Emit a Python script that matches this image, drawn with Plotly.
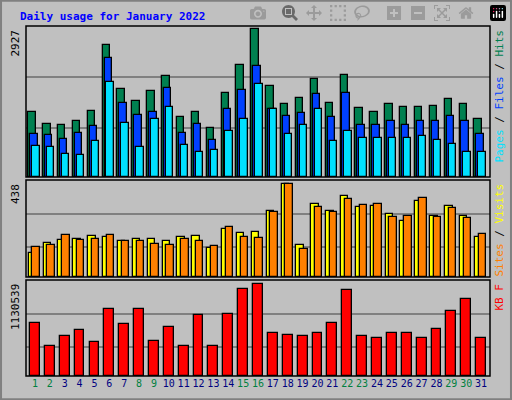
import plotly.graph_objects as go

days = list(range(1, 32))
weekend = [1, 2, 8, 9, 15, 16, 22, 23, 29, 30]
hits = [1279, 1060, 1039, 1118, 1317, 2608, 1736, 1516, 1695, 1993, 1180, 1279, 981, 1674, 2213, 2927, 1794,
        1437, 1557, 1935, 1458, 2014, 1358, 1297, 1437, 1379, 1396, 1417, 1537, 1437, 1159]
files = [861, 840, 761, 881, 1019, 2350, 1458, 1238, 1279, 1756, 881, 1060, 741, 1338, 1715, 2192, 1338,
         1200, 1259, 1636, 1180, 1674, 1039, 1039, 1118, 1039, 1101, 1101, 1200, 1118, 861]
pages = [623, 603, 462, 445, 723, 1873, 1080, 603, 1159, 1379, 641, 503, 544, 902, 1159, 1853, 1338,
         861, 1039, 1338, 723, 919, 781, 781, 781, 781, 822, 741, 662, 503, 503]
visits = [115, 162, 177, 181, 195, 191, 172, 181, 181, 172, 191, 195, 139, 229, 209, 214, 314,
          438, 153, 346, 314, 385, 332, 337, 299, 266, 361, 290, 337, 290, 191]
sites = [143, 153, 200, 177, 181, 200, 172, 172, 158, 153, 181, 172, 148, 238, 191, 186, 309,
         438, 134, 332, 309, 370, 342, 346, 285, 290, 375, 285, 328, 280, 205]
kbytes = [657000, 374000, 493000, 564000, 423000, 822000, 641000, 822000, 435000, 604000, 374000, 751000,
          374000, 765000, 1072000, 1130539, 534000, 510000, 489000, 534000, 657000, 1063000, 497000, 465000,
          528000, 534000, 465000, 575000, 801000, 945000, 465000]
MAX_HITS, MAX_SITES, MAX_KB = 2927, 438, 1130539

fig = go.Figure()
def bars(vals, color, off, w, xa, ya):
    fig.add_trace(go.Bar(x=days, y=vals, offset=off, width=w, marker=dict(color=color, line=dict(color="black", width=1.3)),
                         xaxis=xa, yaxis=ya, showlegend=False))

bars(hits, "#008050", -0.45, 0.5, "x", "y")
bars(files, "#0040ff", -0.32, 0.5, "x", "y")
bars(pages, "#00e0ff", -0.19, 0.5, "x", "y")
bars(visits, "#ffff00", -0.42, 0.5, "x2", "y2")
bars(sites, "#ff8000", -0.17, 0.5, "x2", "y2")
bars(kbytes, "#ff0000", -0.33, 0.66, "x3", "y3")

X0, X1 = 26 / 512, 490 / 512
def dom(t, b):
    return [(400 - b) / 400, (400 - t) / 400]

grid = dict(showgrid=True, gridcolor="#808080", gridwidth=1.5, showticklabels=False, ticks="", zeroline=False)
xcommon = dict(range=[0.4, 31.6], showgrid=False, zeroline=False, domain=[X0, X1])
fig.update_layout(
    width=512, height=400, margin=dict(l=0, r=0, t=0, b=0),
    paper_bgcolor="#c0c0c0", plot_bgcolor="#c0c0c0", barmode="overlay", bargap=0,
    xaxis=dict(**xcommon, anchor="y", showticklabels=False),
    xaxis2=dict(**xcommon, anchor="y2", showticklabels=False),
    xaxis3=dict(**xcommon, anchor="y3", tickvals=days, tickangle=0,
                ticktext=[f"<span style='color:{'#008040' if d in weekend else '#000080'}'>{d}</span>" for d in days],
                tickfont=dict(family="DejaVu Sans Mono", size=10), ticks=""),
    yaxis=dict(**grid, domain=dom(26, 177), range=[0, MAX_HITS * 151 / 147.7], tickvals=[MAX_HITS * 49.4 / 147.7, MAX_HITS * 100.4 / 147.7]),
    yaxis2=dict(**grid, domain=dom(180, 277), range=[0, MAX_SITES * 97 / 92.7], tickvals=[MAX_SITES * 0.327, MAX_SITES * 0.683]),
    yaxis3=dict(**grid, domain=dom(280, 376), range=[0, MAX_KB * 96 / 91.7], tickvals=[MAX_KB * 88 / 275, MAX_KB * 187 / 275]),
)
for t, b in [(26, 177), (180, 277), (280, 376)]:
    fig.add_shape(type="rect", xref="paper", yref="paper", x0=X0, x1=X1, y0=(400 - b) / 400, y1=(400 - t) / 400,
                  line=dict(color="black", width=1.5))
fig.add_shape(type="rect", xref="paper", yref="paper", x0=0.002, x1=0.998, y0=0.002, y1=0.998, line=dict(color="#808080", width=2))

mono = "DejaVu Sans Mono"
fig.add_annotation(text="<b>Daily usage for January 2022</b>", x=18 / 512, y=1 - 8 / 400, xref="paper", yref="paper",
                   xanchor="left", yanchor="top", showarrow=False, font=dict(family=mono, size=11, color="#0000ff"))
for lab, t in [(str(MAX_HITS), 28), ("438", 182), (str(MAX_KB), 282)]:
    fig.add_annotation(text=lab, x=15 / 512, y=1 - t / 400, xref="paper", yref="paper", textangle=-90,
                       xanchor="center", yanchor="top", showarrow=False, font=dict(family=mono, size=11, color="black"))
rl = [("<span style='color:#00e0ff'>Pages</span> / <span style='color:#0040ff'>Files</span> / <span style='color:#008050'>Hits</span>", 28),
      ("<span style='color:#ff8000'>Sites</span> / <span style='color:#ffff00'>Visits</span>", 182),
      ("<span style='color:#ff0000'>KB F</span>", 282)]
for lab, t in rl:
    fig.add_annotation(text=lab, x=499 / 512, y=1 - t / 400, xref="paper", yref="paper", textangle=-90,
                       xanchor="center", yanchor="top", showarrow=False, font=dict(family=mono, size=11, color="black"))
fig.write_html("out.html", post_script="document.body.style.margin='0';document.body.style.overflow='hidden';")
